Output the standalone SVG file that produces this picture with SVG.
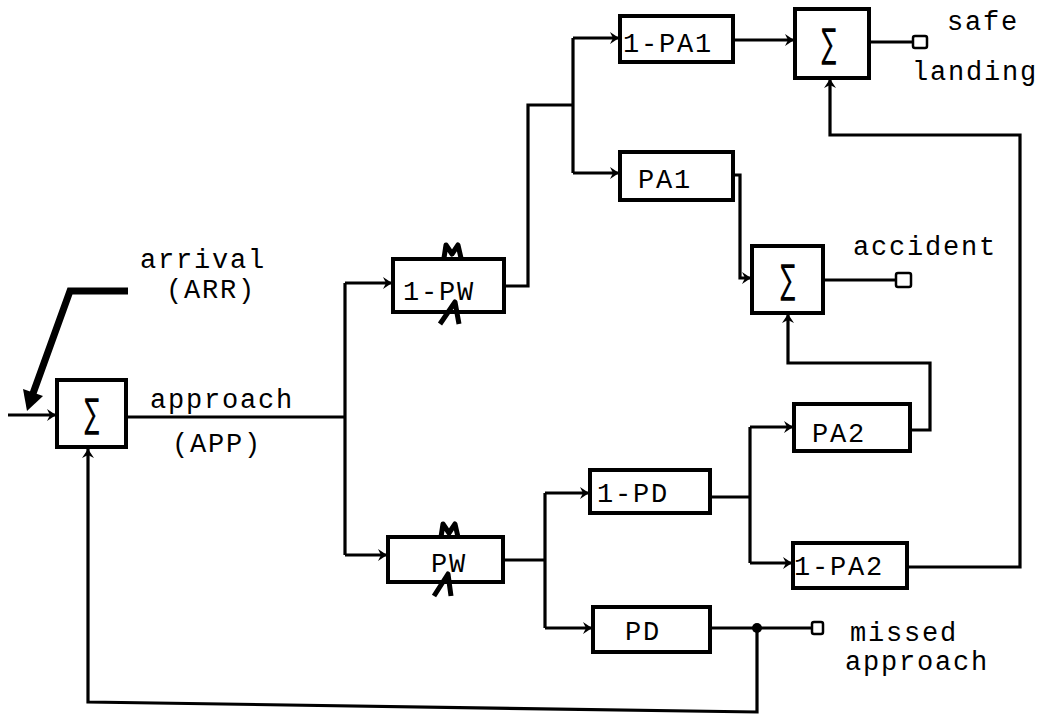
<svg xmlns="http://www.w3.org/2000/svg" width="1040" height="726" viewBox="0 0 1040 726">
<style>
.box{fill:#fff;stroke:#000;stroke-width:4}
.ln{fill:none;stroke:#000;stroke-width:3.2;stroke-linejoin:miter}
.arr{marker-end:url(#ah)}
.t{font-family:"Liberation Mono","DejaVu Sans Mono",monospace;font-size:27px;letter-spacing:1.8px;fill:#000}
.sig{font-family:"DejaVu Sans","Liberation Sans",sans-serif;font-size:40px;fill:#000}
.term{fill:#fff;stroke:#000;stroke-width:2.5}
.mk{fill:none;stroke:#000;stroke-width:5;stroke-linejoin:round}
</style>
<defs>
<marker id="ah" viewBox="-10 -7 12 14" refX="0" refY="0" markerWidth="12" markerHeight="14" markerUnits="userSpaceOnUse" orient="auto">
<path d="M-9,-6 L0,0 L-9,6 L-6,0 Z" fill="#000"/>
</marker>
</defs>
<rect width="1040" height="726" fill="#fff"/>
<g id="connectors">
<path class="ln arr" d="M8,415 H56"/>
<path d="M128,291 H70 L31,399" fill="none" stroke="#000" stroke-width="7"/>
<polygon points="27,411 43,396 23,389" fill="#000"/>
<path class="ln" d="M126,417 H345"/>
<path class="ln" d="M345,283 V555"/>
<path class="ln arr" d="M345,283 H392"/>
<path class="ln arr" d="M345,555 H387"/>
<path class="ln" d="M504,286 H528 V105 H573"/>
<path class="ln" d="M573,38 V173"/>
<path class="ln arr" d="M573,38 H619"/>
<path class="ln arr" d="M573,173 H619"/>
<path class="ln arr" d="M733,40 H794"/>
<path class="ln" d="M869,42 H913"/>
<path class="ln arr" d="M733,175 H740 V278 H751"/>
<path class="ln" d="M823,280 H896"/>
<path class="ln arr" d="M910,430 H930 V363 H788 V314"/>
<path class="ln" d="M503,560 H545"/>
<path class="ln" d="M545,493 V628"/>
<path class="ln arr" d="M545,493 H589"/>
<path class="ln arr" d="M545,628 H592"/>
<path class="ln" d="M710,497 H750"/>
<path class="ln" d="M750,427 V563"/>
<path class="ln arr" d="M750,427 H793"/>
<path class="ln arr" d="M750,563 H792"/>
<path class="ln arr" d="M907,567 H1020 V135 H830 V79"/>
<path class="ln" d="M710,628 H812"/>
<circle cx="757" cy="628" r="5" fill="#000"/>
<path class="ln arr" d="M757,628 V712 L88,702 V449"/>
<rect class="term" x="913" y="36" width="14" height="12" rx="2"/>
<rect class="term" x="896" y="273" width="15" height="14" rx="2"/>
<rect class="term" x="812" y="622" width="11" height="12" rx="2"/>
</g>
<g id="sum1">
<rect class="box" x="57" y="380" width="69" height="67"/>
<text class="sig" transform="translate(92,427) scale(0.55,1)" text-anchor="middle">∑</text>
</g>
<g id="sum_accident">
<rect class="box" x="752" y="246" width="71" height="67"/>
<text class="sig" transform="translate(788,293) scale(0.55,1)" text-anchor="middle">∑</text>
</g>
<g id="sum_safe">
<rect class="box" x="795" y="9" width="74" height="69"/>
<text class="sig" transform="translate(829,57) scale(0.55,1)" text-anchor="middle">∑</text>
</g>
<g id="n_1-PW">
<rect class="box" x="393" y="259" width="111" height="53"/>
<text class="t" x="403" y="300">1-PW</text>
<path class="mk" d="M444,258 L446,245 L452,254 L458,245 L461,258"/>
<path class="mk" d="M440,324 L455,302 L459,324"/>
</g>
<g id="n_PW">
<rect class="box" x="388" y="537" width="115" height="45"/>
<text class="t" x="431" y="572">PW</text>
<path class="mk" d="M441,537 L443,524 L449,533 L455,524 L458,537"/>
<path class="mk" d="M434,596 L448,574 L451,596"/>
</g>
<g id="n_1-PA1">
<rect class="box" x="620" y="16" width="113" height="46"/>
<text class="t" x="623" y="52">1-PA1</text>
</g>
<g id="n_PA1">
<rect class="box" x="620" y="152" width="113" height="48"/>
<text class="t" x="638" y="188">PA1</text>
</g>
<g id="n_PA2">
<rect class="box" x="794" y="404" width="116" height="47"/>
<text class="t" x="812" y="442">PA2</text>
</g>
<g id="n_1-PA2">
<rect class="box" x="793" y="543" width="114" height="45"/>
<text class="t" x="794" y="575">1-PA2</text>
</g>
<g id="n_1-PD">
<rect class="box" x="590" y="470" width="120" height="43"/>
<text class="t" x="597" y="502">1-PD</text>
</g>
<g id="n_PD">
<rect class="box" x="593" y="607" width="117" height="45"/>
<text class="t" x="625" y="640">PD</text>
</g>
<g id="labels">
<text class="t" x="140" y="268">arrival</text>
<text class="t" x="166" y="298">(ARR)</text>
<text class="t" x="150" y="408">approach</text>
<text class="t" x="172" y="452">(APP)</text>
<text class="t" x="947" y="30">safe</text>
<text class="t" x="912" y="80">landing</text>
<text class="t" x="853" y="255">accident</text>
<text class="t" x="850" y="641">missed</text>
<text class="t" x="845" y="670">approach</text>
</g>
</svg>
